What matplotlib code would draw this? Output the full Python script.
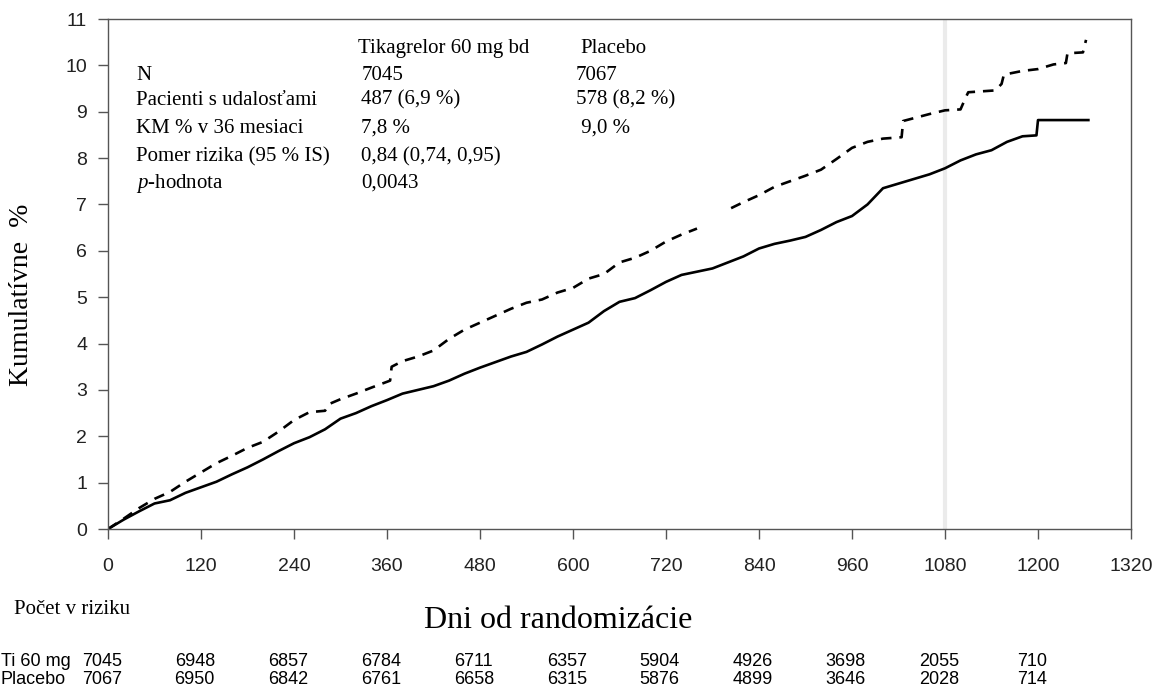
import numpy as np
import matplotlib.pyplot as plt
import matplotlib.transforms as mtransforms

plt.rcParams['mathtext.fontset'] = 'custom'
plt.rcParams['mathtext.rm'] = 'Liberation Serif'
plt.rcParams['mathtext.it'] = 'Liberation Serif:italic'

# Kaplan-Meier curves (days, cumulative %)
# a repeated day marks a visible jump in the curve
ti_days = [0, 20, 40, 60, 80, 100, 120, 140, 160, 180, 200, 220, 240, 260, 280,
           300, 320, 340, 360, 380, 400, 420, 440, 460, 480, 500, 520, 540, 560,
           580, 600, 620, 640, 660, 680, 700, 720, 740, 760, 780, 800, 820, 840,
           860, 880, 900, 920, 940, 960, 980, 1000, 1020, 1040, 1060, 1080, 1100,
           1120, 1140, 1160, 1180, 1198, 1200, 1265]
ti_pct = [0, 0.2, 0.38, 0.55, 0.62, 0.78, 0.9, 1.02, 1.18, 1.33, 1.5, 1.68, 1.85,
          1.98, 2.15, 2.38, 2.5, 2.65, 2.78, 2.92, 3.0, 3.08, 3.2, 3.35, 3.48, 3.6,
          3.72, 3.82, 3.98, 4.15, 4.3, 4.45, 4.7, 4.9, 4.98, 5.15, 5.33, 5.48, 5.55,
          5.62, 5.75, 5.88, 6.05, 6.15, 6.22, 6.3, 6.45, 6.62, 6.75, 7.0, 7.35, 7.45,
          7.55, 7.65, 7.78, 7.95, 8.08, 8.17, 8.35, 8.47, 8.49, 8.82, 8.82]

pl_days = [0, 20, 40, 60, 80, 100, 120, 140, 160, 180, 200, 220, 240, 260, 280,
           286, 300, 320, 340, 364, 366, 380, 400, 420, 440, 460, 480, 500, 520,
           540, 560, 580, 600, 620, 640, 660, 680, 700, 720, 740, 760, 780, 804,
           820, 840, 860, 880, 900, 920, 940, 960, 980, 1000, 1024, 1026, 1060,
           1080, 1100, 1106, 1110, 1145, 1153, 1156, 1180, 1200, 1220, 1236, 1238,
           1258, 1262]
pl_pct = [0, 0.22, 0.45, 0.65, 0.8, 1.02, 1.22, 1.42, 1.58, 1.75, 1.88, 2.1, 2.35,
          2.52, 2.55, 2.7, 2.8, 2.92, 3.05, 3.2, 3.5, 3.62, 3.72, 3.85, 4.1, 4.3,
          4.45, 4.6, 4.75, 4.88, 4.95, 5.1, 5.2, 5.4, 5.5, 5.75, 5.85, 6.0, 6.2,
          6.35, 6.48, np.nan, 6.92, 7.05, 7.2, 7.38, 7.5, 7.62, 7.75, 7.98, 8.22,
          8.35, 8.42, 8.45, 8.8, 8.95, 9.03, 9.05, 9.28, 9.42, 9.46, 9.6, 9.8, 9.88,
          9.92, 10.02, 10.05, 10.26, 10.28, 10.55]

x_ticks = [0, 120, 240, 360, 480, 600, 720, 840, 960, 1080, 1200, 1320]
risk_ti = [7045, 6948, 6857, 6784, 6711, 6357, 5904, 4926, 3698, 2055, 710]
risk_pl = [7067, 6950, 6842, 6761, 6658, 6315, 5876, 4899, 3646, 2028, 714]

table_rows = ['N', 'Pacienti s udalosťami', 'KM % v 36 mesiaci',
              'Pomer rizika (95 % IS)', r'$\mathit{p}$-hodnota']
table_ti = ['7045', '487 (6,9 %)', '7,8 %', '0,84 (0,74, 0,95)', '0,0043']
table_pl = ['7067', '578 (8,2 %)', ' 9,0 %', '', '']

W, H = 1155, 690
fig = plt.figure(figsize=(W / 100, H / 100), dpi=100)
ax = fig.add_axes([108 / W, 1 - 529 / H, (1131 - 108) / W, (529 - 19) / H])

serif = 'Liberation Serif'
sans = 'Liberation Sans'

ax.axvline(1080, color='#ebebeb', lw=3, zorder=0)
ax.plot(ti_days, ti_pct, color='black', lw=1.9)
ax.plot(pl_days, pl_pct, color='black', lw=1.9, linestyle=(0, (4, 3)))

ax.set_xlim(0, 1320)
ax.set_ylim(0, 11)
ax.set_xticks(x_ticks)
ax.set_yticks(range(0, 12))
for s in ax.spines.values():
    s.set_color('#555555')
    s.set_linewidth(1.0)
ax.tick_params(direction='out', length=7, width=1.0, color='#555555',
               labelsize=14, labelcolor='#222222', pad=8)
ax.tick_params(axis='x', pad=14)
for lab in ax.get_xticklabels() + ax.get_yticklabels():
    lab.set_fontfamily(sans)

# summary table inside the plot
row_y = [9.78, 9.25, 8.64, 8.02, 7.46]
ax.text(323, 10.37, 'Tikagrelor 60 mg bd', fontsize=15, family=serif, va='center')
ax.text(609, 10.37, 'Placebo', fontsize=15, family=serif, va='center')
for y, lab, a, b in zip(row_y, table_rows, table_ti, table_pl):
    ax.text(36, y, lab, fontsize=15, family=serif, va='center')
    ax.text(327, y, a, fontsize=15, family=serif, va='center')
    ax.text(604, y, b, fontsize=15, family=serif, va='center')

fig.text(22 / W, 1 - 295 / H, 'Kumulatívne  %', rotation=90, fontsize=20,
         family=serif, ha='center', va='center')
fig.text(558 / W, 1 - 621 / H, 'Dni od randomizácie', fontsize=23,
         family=serif, ha='center', va='center')
fig.text(14 / W, 1 - 609 / H, 'Počet v riziku', fontsize=15, family=serif,
         ha='left', va='center')

# numbers at risk
trans = mtransforms.blended_transform_factory(ax.transData, fig.transFigure)
fig.text(1 / W, 1 - 662 / H, 'Ti 60 mg', fontsize=13, family=sans, va='center')
fig.text(1 / W, 1 - 680 / H, 'Placebo', fontsize=13, family=sans, va='center')
for d, a, b in zip(x_ticks, risk_ti, risk_pl):
    ax.text(d - 8, 1 - 662 / H, str(a), transform=trans, fontsize=13,
            family=sans, ha='center', va='center', clip_on=False)
    ax.text(d - 8, 1 - 680 / H, str(b), transform=trans, fontsize=13,
            family=sans, ha='center', va='center', clip_on=False)

fig.savefig('out.png', dpi=100)
